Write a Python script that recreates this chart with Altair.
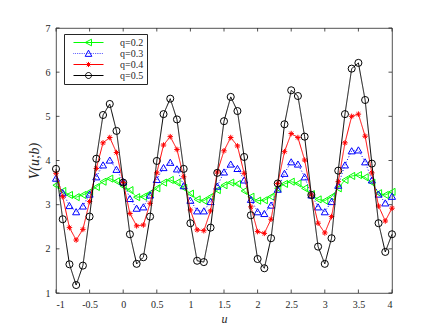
import altair as alt
import pandas as pd

u = [-1.0, -0.9, -0.8, -0.7, -0.6, -0.5, -0.4, -0.3, -0.2, -0.1, 0.0,
     0.1, 0.2, 0.3, 0.4, 0.5, 0.6, 0.7, 0.8, 0.9, 1.0,
     1.1, 1.2, 1.3, 1.4, 1.5, 1.6, 1.7, 1.8, 1.9, 2.0,
     2.1, 2.2, 2.3, 2.4, 2.5, 2.6, 2.7, 2.8, 2.9, 3.0,
     3.1, 3.2, 3.3, 3.4, 3.5, 3.6, 3.7, 3.8, 3.9, 4.0]

v_q02 = [3.44, 3.31, 3.22, 3.17, 3.22, 3.29, 3.40, 3.52, 3.59, 3.53, 3.42,
         3.33, 3.17, 3.18, 3.26, 3.37, 3.50, 3.56, 3.50, 3.38, 3.25,
         3.12, 3.09, 3.18, 3.33, 3.44, 3.50, 3.47, 3.31, 3.18, 3.09,
         3.10, 3.18, 3.37, 3.47, 3.52, 3.48, 3.37, 3.24, 3.12, 3.09,
         3.18, 3.37, 3.56, 3.65, 3.67, 3.62, 3.50, 3.26, 3.22, 3.29]

v_q03 = [3.60, 3.27, 2.98, 2.84, 2.97, 3.24, 3.63, 3.90, 4.01, 3.80, 3.52,
         3.14, 2.92, 2.95, 3.22, 3.57, 3.84, 3.96, 3.81, 3.43, 3.10,
         2.86, 2.86, 3.07, 3.42, 3.74, 3.92, 3.82, 3.56, 3.12, 2.84,
         2.80, 2.99, 3.35, 3.71, 3.97, 3.92, 3.63, 3.22, 2.95, 2.84,
         3.07, 3.44, 3.90, 4.22, 4.24, 3.97, 3.56, 3.24, 3.04, 3.19]

v_q04 = [3.71, 3.18, 2.48, 2.20, 2.44, 3.07, 3.82, 4.40, 4.52, 4.18, 3.50,
         2.80, 2.52, 2.54, 3.03, 3.72, 4.35, 4.54, 4.25, 3.63, 2.88,
         2.43, 2.41, 2.86, 3.74, 4.22, 4.52, 4.33, 3.71, 2.95, 2.39,
         2.35, 2.67, 3.48, 4.20, 4.61, 4.52, 4.01, 3.22, 2.58, 2.36,
         2.73, 3.52, 4.40, 5.00, 5.05, 4.55, 3.72, 2.97, 2.63, 2.92]

v_q05 = [3.81, 2.67, 1.65, 1.18, 1.62, 2.73, 4.04, 5.03, 5.28, 4.67, 3.50,
         2.33, 1.66, 1.81, 2.73, 3.99, 5.05, 5.40, 4.93, 3.81, 2.58,
         1.73, 1.70, 2.48, 3.72, 4.89, 5.44, 5.12, 4.08, 2.76, 1.77,
         1.56, 2.24, 3.48, 4.82, 5.59, 5.46, 4.54, 3.22, 2.05, 1.66,
         2.24, 3.77, 5.05, 6.08, 6.21, 5.37, 3.93, 2.58, 1.93, 2.33]

series_labels = ["q=0.2", "q=0.3", "q=0.4", "q=0.5"]
series_values = [v_q02, v_q03, v_q04, v_q05]
series_colors = ["#00ff00", "#0000ff", "#ff0000", "#000000"]
series_dash = [[1, 0], [1, 2], [1, 0], [1, 0]]

x_ticks = [-1, -0.5, 0, 0.5, 1, 1.5, 2, 2.5, 3, 3.5, 4]
y_ticks = [1, 2, 3, 4, 5, 6, 7]

rows = []
for lab, vals in zip(series_labels, series_values):
    for uu, vv in zip(u, vals):
        rows.append({"u": uu, "V": vv, "q": lab})
df = pd.DataFrame(rows)

W, H = 336, 265
AX = "#262626"
FONT = "Liberation Serif"

xscale = alt.Scale(domain=[-1, 4], nice=False, zero=False)
yscale = alt.Scale(domain=[1, 7], nice=False, zero=False)
xaxis = alt.Axis(values=x_ticks, title="u", titleFontStyle="italic", labelExpr="datum.value",
                 labelPadding=6, titlePadding=4)
yaxis = alt.Axis(values=y_ticks, title="V(u;b)", titleFontStyle="italic",
                 labelPadding=6, titlePadding=4, titleFontSize=14)
cscale = alt.Scale(domain=series_labels, range=series_colors)

asterisk = "M-1,0L1,0M0,-1L0,1M-0.7,-0.7L0.7,0.7M-0.7,0.7L0.7,-0.7"
marker_shapes = ["triangle-left", "triangle-up", asterisk, "circle"]
marker_sizes = [50, 50, 30, 50]

dots = "".join("M%.2f,0L%.2f,0" % (-1 + 0.12 * i, -1 + 0.12 * i + 0.04) for i in range(17))
leg_shapes = [
    "M-1,0L1,0M-0.22,0L0.2,-0.22L0.2,0.22Z",
    dots + "M-0.22,0.19L0,-0.22L0.22,0.19Z",
    "M-1,0L1,0M-0.17,0L0.17,0M0,-0.17L0,0.17M-0.12,-0.12L0.12,0.12M-0.12,0.12L0.12,-0.12",
    "M-1,0L1,0M-0.2,0A0.2,0.2 0 1,0 0.2,0A0.2,0.2 0 1,0 -0.2,0",
]

legend = alt.Legend(orient="none", legendX=8, legendY=6, title=None,
                    symbolSize=900, clipHeight=11, labelFont=FONT, labelFontSize=10,
                    labelColor=AX, strokeColor=AX, fillColor="white", padding=3,
                    rowPadding=0, labelOffset=16, symbolOffset=6, symbolStrokeWidth=1,
                    symbolOpacity=1, symbolFillColor="transparent")

base = alt.Chart(df)
X = alt.X("u:Q", scale=xscale, axis=xaxis)
Y = alt.Y("V:Q", scale=yscale, axis=yaxis)

series_layers = []
for lab, col, dash, shp, sz in zip(series_labels, series_colors, series_dash, marker_shapes, marker_sizes):
    sub = base.transform_filter(alt.datum.q == lab)
    series_layers.append(sub.mark_line(color=col, strokeWidth=1, strokeDash=dash).encode(x=X, y=Y))
    series_layers.append(sub.mark_point(color=col, shape=shp, size=sz, filled=False,
                                        strokeWidth=1, opacity=1).encode(x=X, y=Y))

leg = base.mark_point(filled=False, opacity=0).encode(
    x=X, y=Y,
    color=alt.Color("q:N", scale=cscale, legend=legend),
    shape=alt.Shape("q:N", scale=alt.Scale(domain=series_labels, range=leg_shapes), legend=legend),
)

xt = pd.DataFrame({"t": x_ticks})
yt = pd.DataFrame({"t": y_ticks})
XT = alt.X("t:Q", scale=xscale, axis=xaxis)
YT = alt.Y("t:Q", scale=yscale, axis=yaxis)
tk = 3.5
xb = alt.Chart(xt).mark_rule(color=AX, strokeWidth=0.8).encode(x=XT, y=alt.value(H), y2=alt.value(H - tk))
xtp = alt.Chart(xt).mark_rule(color=AX, strokeWidth=0.8).encode(x=XT, y=alt.value(0), y2=alt.value(tk))
yl = alt.Chart(yt).mark_rule(color=AX, strokeWidth=0.8).encode(y=YT, x=alt.value(0), x2=alt.value(tk))
yr = alt.Chart(yt).mark_rule(color=AX, strokeWidth=0.8).encode(y=YT, x=alt.value(W), x2=alt.value(W - tk))

chart = alt.layer(xb, xtp, yl, yr, *series_layers, leg).properties(
    width=W, height=H,
    autosize=alt.AutoSizeParams(type="none"),
    padding={"left": 48, "top": 20, "right": 20, "bottom": 34},
).configure_view(stroke=AX, strokeWidth=0.8).configure_axis(
    domain=False, ticks=False, grid=False, labelFont=FONT, labelFontSize=10, labelColor=AX,
    titleFont=FONT, titleFontSize=12, titleColor=AX, titleFontWeight="normal",
)

chart.save("out.html", embed_options={"renderer": "svg", "actions": False})
